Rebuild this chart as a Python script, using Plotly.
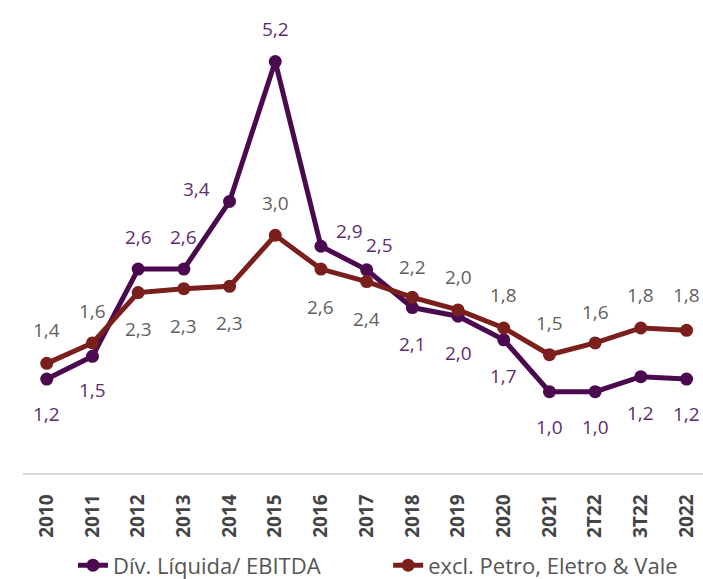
import plotly.graph_objs as go

periodos = ["2010", "2011", "2012", "2013", "2014", "2015", "2016", "2017",
            "2018", "2019", "2020", "2021", "2T22", "3T22", "2022"]

# Div. Liquida / EBITDA (valores estimados a partir da posicao dos pontos)
div_ebitda = [1.16, 1.45, 2.56, 2.56, 3.42, 5.20, 2.85, 2.55,
              2.07, 1.96, 1.66, 1.00, 1.00, 1.19, 1.16]
div_ebitda_txt = ["1,2", "1,5", "2,6", "2,6", "3,4", "5,2", "2,9", "2,5",
                  "2,1", "2,0", "1,7", "1,0", "1,0", "1,2", "1,2"]

# excl. Petro, Eletro & Vale
excl = [1.36, 1.62, 2.26, 2.31, 2.34, 2.99, 2.56, 2.40,
        2.20, 2.04, 1.81, 1.47, 1.62, 1.81, 1.78]
excl_txt = ["1,4", "1,6", "2,3", "2,3", "2,3", "3,0", "2,6", "2,4",
            "2,2", "2,0", "1,8", "1,5", "1,6", "1,8", "1,8"]

cor_roxo = "#4B0A4F"
cor_vinho = "#7A1F1C"
cor_txt_roxo = "#5E2C70"
cor_txt_cinza = "#5F5F5F"
fonte = "Open Sans"

# deslocamento (px) dos rotulos em relacao ao ponto
off_roxo = [(0, -35), (0, -34), (0, 32), (0, 32), (-33, 12), (0, 33), (29, 15), (13, 25),
            (0, -36), (0, -37), (0, -36), (0, -35), (0, -35), (0, -36), (0, -35)]
off_vinho = [(0, 33), (0, 32), (0, -36), (0, -37), (0, -37), (0, 32), (0, -38), (0, -37),
             (0, 30), (0, 33), (0, 33), (0, 32), (0, 31), (0, 33), (0, 35)]

fig = go.Figure()
fig.add_trace(
    go.Scatter(
        name="Dív. Líquida/ EBITDA",
        x=periodos,
        y=div_ebitda,
        mode="lines+markers",
        line=dict(color=cor_roxo, width=5),
        marker=dict(color=cor_roxo, size=13),
        legend="legend",
    )
)
fig.add_trace(
    go.Scatter(
        name="excl. Petro, Eletro & Vale",
        x=periodos,
        y=excl,
        mode="lines+markers",
        line=dict(color=cor_vinho, width=5),
        marker=dict(color=cor_vinho, size=13),
        legend="legend2",
    )
)

# rotulos de dados (x pelo indice da categoria)
anotacoes = []
for serie, textos, offs, cor in [
    (div_ebitda, div_ebitda_txt, off_roxo, cor_txt_roxo),
    (excl, excl_txt, off_vinho, cor_txt_cinza),
]:
    for i, (v, t, (dx, dy)) in enumerate(zip(serie, textos, offs)):
        anotacoes.append(
            dict(
                x=i, y=v, text=t, showarrow=False,
                xanchor="center", yanchor="middle",
                xshift=dx, yshift=dy,
                font=dict(family=fonte, size=19, color=cor),
            )
        )

legenda_base = dict(
    orientation="h",
    yanchor="middle",
    y=-0.203,
    xanchor="left",
    bgcolor="rgba(0,0,0,0)",
    font=dict(family=fonte, size=22, color="#555555"),
)

fig.update_layout(
    width=703,
    height=579,
    margin=dict(l=23, r=0, t=18, b=106, autoexpand=False),
    paper_bgcolor="white",
    plot_bgcolor="white",
    showlegend=True,
    legend=dict(legenda_base, x=0.0735),
    legend2=dict(legenda_base, x=0.537),
    xaxis=dict(
        type="category",
        range=[-0.52, 14.36],
        automargin=False,
        showgrid=False,
        showline=True,
        linecolor="#D9D9D9",
        linewidth=1.5,
        zeroline=False,
        tickangle=-90,
        ticklabelstandoff=12,
        tickfont=dict(family=fonte, size=19, color="#444444", weight="bold"),
    ),
    yaxis=dict(
        range=[-0.035, 5.754],
        visible=False,
        showgrid=False,
        zeroline=False,
    ),
    annotations=anotacoes,
)

# tira a margem padrao do body para a figura ocupar a janela inteira
fig.write_html(
    "out.html",
    config={"displayModeBar": False},
    post_script="document.body.style.margin='0';"
    "document.documentElement.style.overflow='hidden';",
)
